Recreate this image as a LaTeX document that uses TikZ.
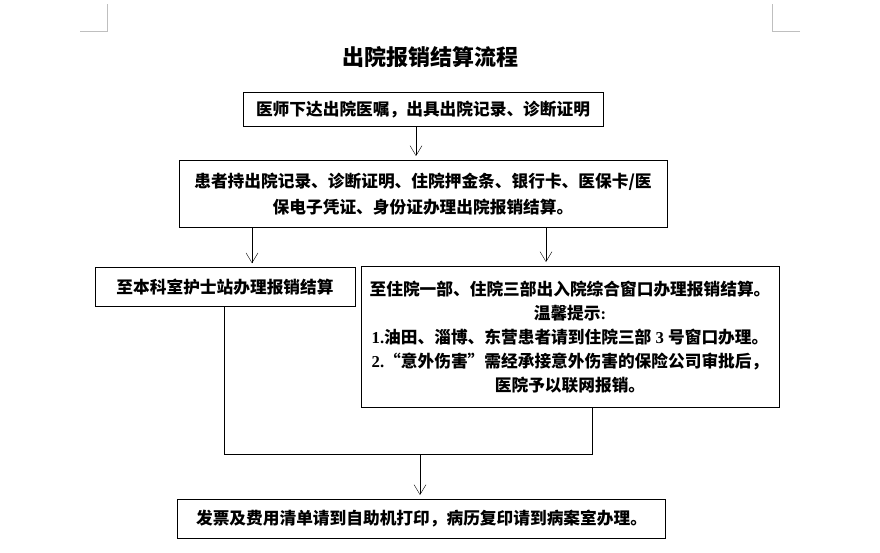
\documentclass[tikz,border=0pt]{standalone}
\usepackage{fontspec}
\setmainfont{Noto Sans CJK SC}
\newfontfamily\latin{Liberation Serif}
\usetikzlibrary{arrows.meta}

\begin{document}
\begin{tikzpicture}[x=1pt, y=-1pt,
		box/.style={draw, line width=1pt, inner sep=0pt, align=center, font=\bfseries\fontsize{16.7}{24}\selectfont},
		arr/.style={-{Straight Barb[length=10pt, width=12pt]}, shorten >=4pt},
		cropline/.style={draw=black!25, line width=0.8pt}]
	\useasboundingbox (0,0) rectangle (880,553);
	% Seitenecken
	\draw[cropline] (80,31) -- (107,31) -- (107,4);
	\draw[cropline] (800,31) -- (772,31) -- (772,4);
	\node (title) at (430.5,57) {\bfseries\fontsize{22}{22}\selectfont 出院报销结算流程};
	\node[box, minimum width=360pt, minimum height=34pt] (doctor) at (423,110) {医师下达出院医嘱，出具出院记录、诊断证明};
	\node[box, minimum width=488pt, minimum height=67pt, font=\bfseries\fontsize{16.7}{26}\selectfont] (patient) at (423,194) {患者持出院记录、诊断证明、住院押金条、银行卡、医保卡/医\\保电子凭证、身份证办理出院报销结算。};
	\node[box, minimum width=260pt, minimum height=38.5pt] (nurse) at (225,287) {至本科室护士站办理报销结算};
	\node[box, minimum width=418pt, minimum height=141pt] (window) at (570,337) {至住院一部、住院三部出入院综合窗口办理报销结算。\\温馨提示{\latin :}\\{\latin 1.}油田、淄博、东营患者请到住院三部{\latin\ 3 }号窗口办理。\\{\latin 2.}“意外伤害”需经承接意外伤害的保险公司审批后，\\医院予以联网报销。};
	\node[box, minimum width=488pt, minimum height=39pt] (bill) at (421.5,519) {发票及费用清单请到自助机打印，病历复印请到病案室办理。};
	\coordinate (join) at (420,454);
	\draw[arr] (doctor.south -| 416,0) -- (patient.north -| 416,0);
	\draw[arr] (patient.south -| 252,0) -- (nurse.north -| 252,0);
	\draw[arr] (patient.south -| 546,0) -- (window.north -| 546,0);
	\draw (nurse.south -| 224,0) |- (join);
	\draw (window.south -| 592,0) |- (join);
	\draw[arr] (join) -- (bill.north -| join);
\end{tikzpicture}
\end{document}
